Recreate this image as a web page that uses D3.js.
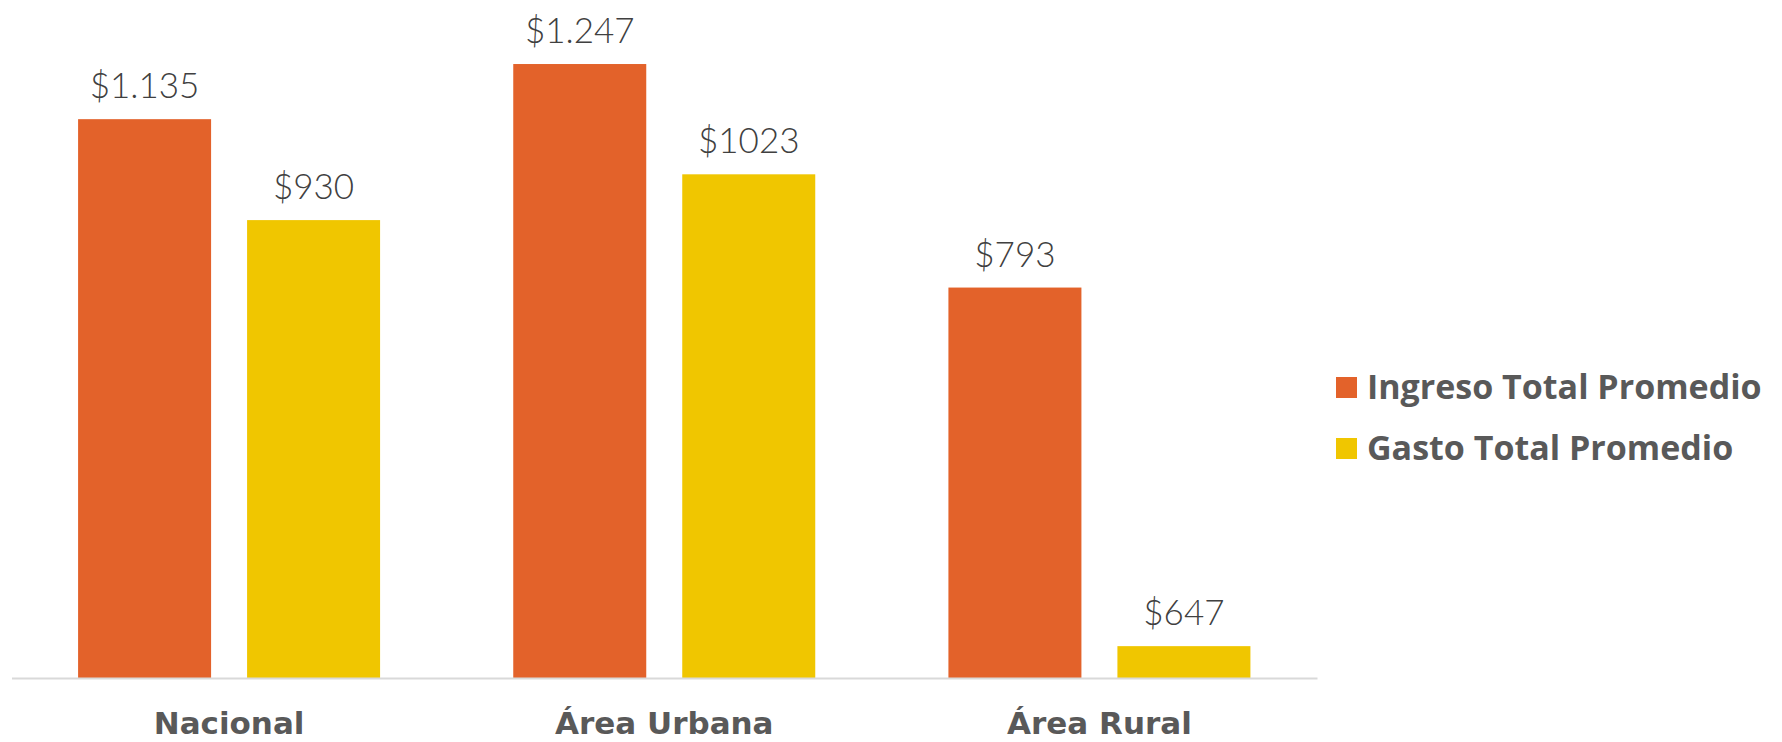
<!DOCTYPE html>
<html>
<head>
<meta charset="utf-8">
<script src="https://cdn.jsdelivr.net/npm/d3@7"></script>
<style>
  html, body { margin: 0; padding: 0; background: #fff; }
  svg { display: block; }
</style>
</head>
<body>
<div id="chart"></div>
<script>
// Data
const categories = ['Nacional', 'Área Urbana', 'Área Rural'];
const seriesNames = ['Ingreso Total Promedio', 'Gasto Total Promedio'];
const ingresoValues = [1135, 1247, 793];
const gastoValues = [930, 1023, 64.7];   // rural bar is drawn at 64.7 in the source chart
const ingresoLabels = ['$1.135', '$1.247', '$793'];
const gastoLabels = ['$930', '$1023', '$647'];
const seriesColors = ['#e3622a', '#f0c600'];

const width = 1782;
const height = 742;

const rows = categories.map((c, i) => ({
  category: c,
  bars: [
    { series: seriesNames[0], value: ingresoValues[i], label: ingresoLabels[i] },
    { series: seriesNames[1], value: gastoValues[i], label: gastoLabels[i] }
  ]
}));

const svg = d3.select('#chart')
  .append('svg')
  .attr('width', width)
  .attr('height', height);

const x0 = d3.scaleBand()
  .domain(categories)
  .range([11.5, 1317]);

const x1 = d3.scaleBand()
  .domain(seriesNames)
  .range([0, x0.bandwidth()])
  .paddingInner(0.213)
  .paddingOuter(0.394);

const y = d3.scaleLinear()
  .domain([0, 1375])
  .range([678, 1]);

const color = d3.scaleOrdinal()
  .domain(seriesNames)
  .range(seriesColors);

// Groups + bars
const group = svg.append('g')
  .selectAll('g')
  .data(rows)
  .join('g')
  .attr('transform', d => `translate(${x0(d.category)},0)`);

group.selectAll('rect')
  .data(d => d.bars)
  .join('rect')
  .attr('x', d => x1(d.series))
  .attr('y', d => y(d.value))
  .attr('width', x1.bandwidth())
  .attr('height', d => y(0) - y(d.value))
  .attr('fill', d => color(d.series));

// Value labels
group.selectAll('text')
  .data(d => d.bars)
  .join('text')
  .attr('x', d => x1(d.series) + x1.bandwidth() / 2)
  .attr('y', d => y(d.value) - 21)
  .attr('text-anchor', 'middle')
  .attr('font-family', 'Lato, "Noto Sans", sans-serif')
  .attr('font-weight', 300)
  .attr('font-size', '35px')
  .attr('fill', '#404040')
  .text(d => d.label);

// Baseline axis
const xAxis = d3.axisBottom(x0).tickSize(0).tickPadding(0);
const axisG = svg.append('g')
  .attr('transform', `translate(0,${y(0)})`)
  .call(xAxis);

axisG.select('.domain')
  .attr('stroke', '#d9d9d9')
  .attr('stroke-width', 2);

axisG.selectAll('text')
  .attr('dy', null)
  .attr('y', 56)
  .attr('font-family', '"DejaVu Sans", sans-serif')
  .attr('font-weight', 'bold')
  .attr('font-size', '31px')
  .attr('fill', '#595959');

// Legend
const legend = svg.append('g')
  .selectAll('g')
  .data(seriesNames)
  .join('g')
  .attr('transform', (d, i) => `translate(1336,${377 + i * 61})`);

legend.append('rect')
  .attr('width', 21)
  .attr('height', 21)
  .attr('fill', d => color(d));

legend.append('text')
  .attr('x', 31)
  .attr('y', 22)
  .attr('font-family', '"Open Sans", sans-serif')
  .attr('font-weight', 'bold')
  .attr('font-size', '34px')
  .attr('fill', '#595959')
  .text(d => d);
</script>
</body>
</html>
